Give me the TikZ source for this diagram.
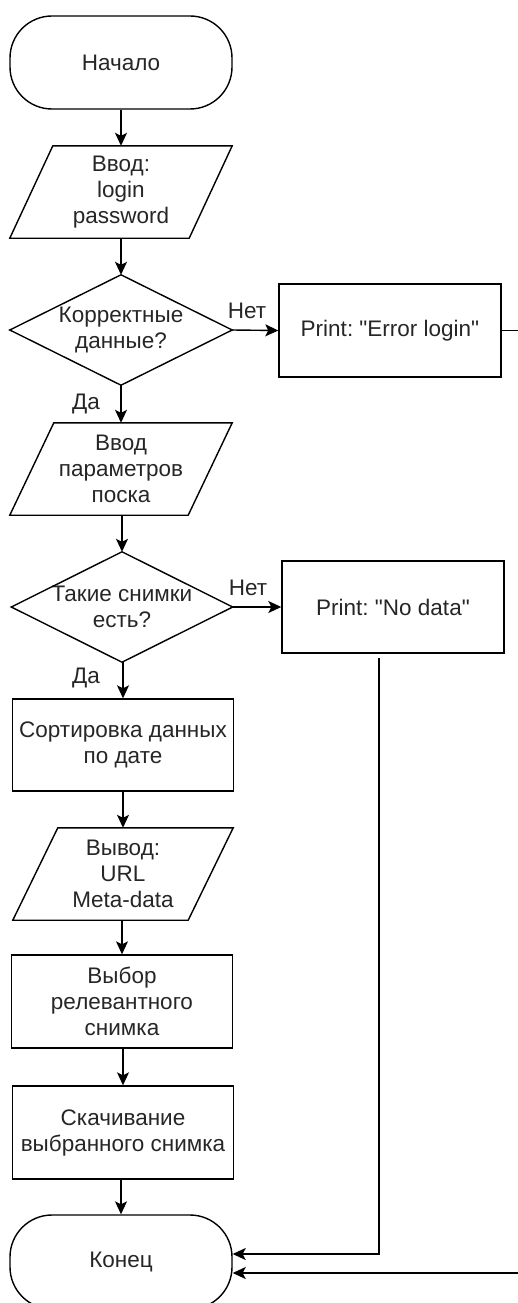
\documentclass[tikz,border=0pt]{standalone}
\usepackage{fontspec}
\newfontfamily\lib{Liberation Sans}
\usetikzlibrary{arrows.meta}
\frenchspacing
\newcommand\drawpara[2]{\draw[shapeline] ([xshift=#2]#1.north west) -- (#1.north east) -- ([xshift=-#2]#1.south east) -- (#1.south west) -- cycle;}
\newcommand\drawdiam[1]{\draw[shapeline] (#1.north) -- (#1.east) -- (#1.south) -- (#1.west) -- cycle;}
\begin{document}
\begin{tikzpicture}[x=1pt,y=-1pt,
  font=\lib\frenchspacing\fontsize{22.5}{26}\selectfont,
  base/.style={minimum width=222pt, minimum height=93pt, align=center, inner sep=0pt, text=black!85},
  box/.style={base, draw, line width=1.4pt},
  term/.style={box, rounded corners=42pt},
  frame/.style={base},
  shapeline/.style={draw, line width=1.4pt, line join=miter},
  conn/.style={line width=1.4pt, -{Stealth[length=13pt,width=12pt,inset=3pt]}},
  lbl/.style={text=black!85, inner sep=0pt}]
\useasboundingbox (0,0) rectangle (518,1303);

\node[term] (start) at (121,62.5) {Начало};
\node[frame, minimum height=92pt] (in1) at (121,192) {Ввод:\\login\\password};
\drawpara{in1}{43pt}
\node[frame, minimum height=110pt] (d1) at (121,330) {Корректные\\данные?};
\drawdiam{d1}
\node[box] (err) at (390,330.5) {Print: "Error login"};
\node[frame, minimum height=92pt] (in2) at (121,469) {Ввод\\параметров\\поска};
\drawpara{in2}{44pt}
\node[frame, minimum width=221pt, minimum height=110pt] (d2) at (122,607) {Такие снимки\\есть?};
\drawdiam{d2}
\node[box, minimum height=92pt] (nod) at (393,607) {Print: "No data"};
\node[box, minimum width=221pt, minimum height=92pt] (sort) at (123,745) {Сортировка данных\\по дате};
\node[frame, minimum width=220pt, minimum height=92pt] (out) at (123,874) {Вывод:\\URL\\Meta-data};
\drawpara{out}{45pt}
\node[box, minimum width=221pt] (sel) at (122,1001.5) {Выбор\\релевантного\\снимка};
\node[box, minimum width=221pt] (dl) at (123,1132.5) {Скачивание\\выбранного снимка};
\node[term, minimum height=94pt] (end) at (121,1262) {Конец};

\node[lbl] (no1) at (247,311) {Нет};
\node[lbl] (yes1) at (86,404) {Да};
\node[lbl] (no2) at (248,588) {Нет};
\node[lbl] (yes2) at (86,678) {Да};

\coordinate (errout) at (521,330.5);
\coordinate (nodout) at (379,658);
\coordinate (c2) at (122,515);
\coordinate (c3) at (123,662);
\coordinate (c4) at (123,791);
\coordinate (c5) at (122,920);
\coordinate (c6) at (123,1048);
\coordinate (c7) at (121,1179);

\draw[conn] (start.south) -- (in1.north);
\draw[conn] (in1.south) -- (d1.north);
\draw[conn] (d1.east) -- (err.west);
\draw[conn] (d1.south) -- (in2.north);
\draw[conn] (c2) -- (d2.north);
\draw[conn] (d2.east) -- (nod.west);
\draw[conn] (c3) -- (sort.north);
\draw[conn] (c4) -- (out.north);
\draw[conn] (c5) -- (sel.north);
\draw[conn] (c6) -- (dl.north);
\draw[conn] (c7) -- (end.north);
\draw[conn] (nodout) |- ([yshift=8pt]end.east);
\draw[conn] (err.east) -- (errout) |- ([yshift=-11pt]end.east);
\end{tikzpicture}
\end{document}
